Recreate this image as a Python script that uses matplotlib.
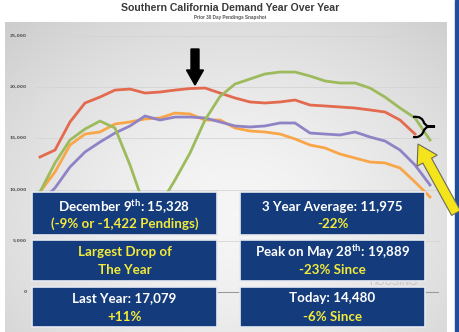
import numpy as np
import matplotlib
matplotlib.use("Agg")
import matplotlib.pyplot as plt
from matplotlib.patches import FancyArrow, PathPatch
from matplotlib.path import Path

plt.rcParams['mathtext.fontset'] = 'custom'
plt.rcParams['mathtext.bf'] = 'Lato:bold'
plt.rcParams['mathtext.rm'] = 'Lato:bold'

# ---- data (biweekly snapshots, weeks from start of year) ----
weeks = list(range(0, 53, 2))
red = [13170, 13850, 16590, 18440, 19020, 19700, 19800, 19410, 19510, 19700,
       19850, 19900, 19410, 18930, 18540, 18440, 18540, 18730, 18240, 18150,
       18050, 17950, 17760, 17560, 16780, 15410, np.nan]
orange = [9760, 11710, 14340, 15410, 15610, 16390, 16590, 16880, 16980, 17460,
          17370, 16780, 16780, 16000, 15710, 15610, 15410, 14930, 14340, 14050,
          13460, 13070, 12680, 12590, 12100, 10730, 9270]
purple = [8680, 10150, 12200, 13660, 14630, 15510, 16200, 17170, 16780, 17070,
          17070, 16980, 16590, 16200, 16100, 16200, 16490, 16490, 15510, 15410,
          15320, 15610, 15120, 14730, 13850, 12390, 10440]
green = [9760, 12590, 14830, 15900, 16680, 16000, 12390, 8200, 8490, 10930,
         13560, 16780, 19070, 20290, 20780, 21270, 21460, 21460, 21070, 20590,
         20390, 20390, 19900, 19020, 17950, 16980, 14830]
yticks = [0, 5000, 10000, 15000, 20000, 25000]

title = "Southern California Demand Year Over Year"
subtitle = "Prior 30 Day Pendings Snapshot"
boxes = [
    ("December 9$^{\\mathbf{th}}$: 15,328", "(-9% or -1,422 Pendings)", True),
    ("3 Year Average: 11,975", "-22%", True),
    ("Largest Drop of", "The Year", False),
    ("Peak on May 28$^{\\mathbf{th}}$: 19,889", "-23% Since", True),
    ("Last Year: 17,079", "+11%", True),
    ("Today: 14,480", "-6% Since", True),
]

W, H = 460, 332
fig = plt.figure(figsize=(W / 100, H / 100), dpi=100)
fig.patch.set_facecolor('white')

# plot area in pixels
L, R, T, B = 5, 447, 22, 332
# background gradient
bg = fig.add_axes([L / W, 0, (R - L) / W, (B - T) / H])
yy, xx = np.mgrid[0:1:200j, 0:1:300j]
d = np.sqrt(((xx - 0.52) / 0.75) ** 2 + ((yy - 0.62) / 0.85) ** 2)
g = 0.965 - 0.16 * np.clip(d, 0, 1.2) ** 1.5
bg.imshow(np.dstack([g, g, g]), aspect='auto', extent=[0, 1, 1, 0], interpolation='bilinear')
bg.set_axis_off()

ax = fig.add_axes([L / W, 0, (R - L) / W, (B - T) / H])
ax.patch.set_alpha(0)
px_per_week = 7.5
x0px = 40
ax.set_xlim((L - x0px) / px_per_week, (R - x0px) / px_per_week)
ppk = 10.25 / 1000
ax.set_ylim(20000 - (B - 87) / ppk, 20000 + (87 - T) / ppk)
for s in ax.spines.values():
    s.set_visible(False)
ax.set_xticks([])
ax.set_yticks([])
label_x = (27 - x0px) / px_per_week
for v in yticks:
    if v > 0:
        ax.axhline(v, xmin=0.07, xmax=0.985, color='#d4d4d4', lw=0.6, zorder=1)
    ax.text(label_x, v, f"{v:,}", fontsize=3.2, color='#555555',
            ha='right', va='center', fontweight='bold')
ax.axhline(0, xmin=0.06, xmax=0.98, color='#9a9a9a', lw=0.8, zorder=1)

lw = 2.0
ax.plot(weeks, orange, color='#f8a648', lw=lw, zorder=3, solid_joinstyle='round')
ax.plot(weeks, purple, color='#8f83c6', lw=lw, zorder=3, solid_joinstyle='round')
ax.plot(weeks, red, color='#e3694f', lw=lw, zorder=3, solid_joinstyle='round')
ax.plot(weeks, green, color='#9dbb5c', lw=lw, zorder=4, solid_joinstyle='round')

# overlay in pixel coordinates
ov = fig.add_axes([0, 0, 1, 1])
ov.set_xlim(0, W)
ov.set_ylim(H, 0)
ov.set_axis_off()
ov.patch.set_alpha(0)

ov.text(230, 8, title, ha='center', va='center', fontsize=7.6, fontweight='bold',
        color='#3a3a3a', family='Liberation Sans')
ov.text(230, 18, subtitle, ha='center', va='center', fontsize=3.3, fontweight='bold',
        color='#555555', family='Liberation Sans')

# right blue border
ov.add_patch(plt.Rectangle((455, 0), 5, H, color='#1f4e9a', zorder=1))

# faint watermark
ov.text(393, 282, "HOUSING", ha='center', va='center', fontsize=7.5, color='#c4c4c4',
        family='Liberation Sans', zorder=2)

# boxes
rows = [(192, 235, 207, 224), (240, 281, 252, 270), (287, 327, 298, 317)]
cols = [(32, 217), (240, 425)]
for i, (l1, l2, white_first) in enumerate(boxes):
    r, c = divmod(i, 2)
    top, bot, y1, y2 = rows[r]
    xa, xb = cols[c]
    ov.add_patch(plt.Rectangle((xa, top), xb - xa, bot - top, facecolor='#143c7c',
                               edgecolor='#e6e9f0', lw=1.2, zorder=5))
    cx = (xa + xb) / 2
    c1 = 'white' if white_first else '#f3ea3a'
    ov.text(cx, y1, l1, ha='center', va='center', fontsize=9.6, fontweight='bold',
            color=c1, family='Lato', zorder=6)
    ov.text(cx, y2, l2, ha='center', va='center', fontsize=9.6, fontweight='bold',
            color='#f3ea3a', family='Lato', zorder=6)

# black down arrow
ov.add_patch(FancyArrow(195, 49, 0, 36, width=8, head_width=17, head_length=15,
                        length_includes_head=True, color='black', zorder=7))

# black brace
codes = [Path.MOVETO, Path.CURVE4, Path.CURVE4, Path.CURVE4, Path.LINETO, Path.LINETO,
         Path.LINETO, Path.LINETO, Path.CURVE4, Path.CURVE4, Path.CURVE4]
verts = [(413, 117), (420, 116), (423, 119), (424, 123), (427, 126), (435, 126.5),
         (427, 127), (424, 130), (423, 134), (420, 138), (413, 137)]
ov.add_patch(PathPatch(Path(verts, codes), facecolor='none', edgecolor='black',
                       lw=1.6, zorder=7))

# yellow arrow
ov.add_patch(FancyArrow(456, 213, -38, -69, width=10, head_width=23, head_length=19,
                        length_includes_head=True, facecolor='#f4e41c',
                        edgecolor='#6a6a5a', lw=0.8, zorder=8))

fig.savefig('out.png', dpi=100)
